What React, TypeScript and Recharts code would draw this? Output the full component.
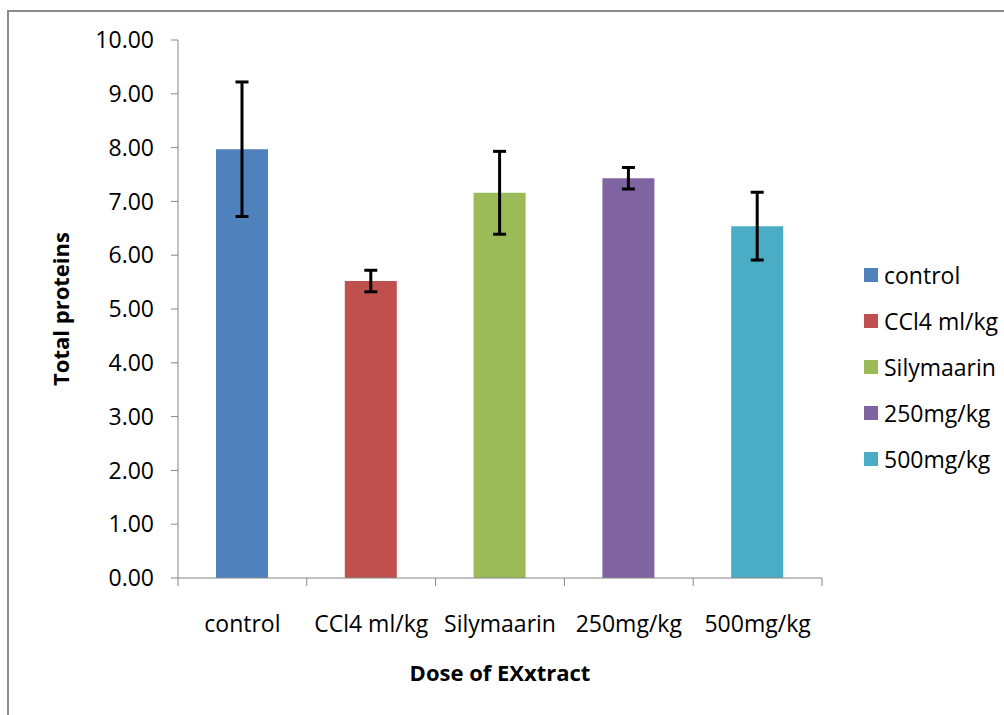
import { BarChart, Bar, Cell, ErrorBar, XAxis, YAxis, Label } from 'recharts'

const categories = ['control', 'CCl4 ml/kg', 'Silymaarin', '250mg/kg', '500mg/kg']
const values = [7.97, 5.52, 7.16, 7.43, 6.54]
const errors = [1.25, 0.2, 0.77, 0.2, 0.63]
const colors = ['#4F81BD', '#C0504D', '#9BBB59', '#8064A2', '#4BACC6']
const yTicks = [0, 1, 2, 3, 4, 5, 6, 7, 8, 9, 10]

const data = categories.map((name, i) => ({ name, value: values[i], err: errors[i] }))

const FONT = "'Open Sans', 'Noto Sans', sans-serif"
const AXIS = '#868686'
const TICK = { fontSize: 23, fill: '#000', fontFamily: FONT }

// category label + tick marks on the band edges (Excel style)
/* eslint-disable @typescript-eslint/no-explicit-any */
function CatTick(props: any) {
  const { x, y, payload, index, visibleTicksCount } = props
  const half = payload?.offset ?? 0
  const last = index === (visibleTicksCount ?? categories.length) - 1
  return (
    <g>
      <line x1={x - half} x2={x - half} y1={y} y2={y + 8} stroke={AXIS} />
      {last && <line x1={x + half} x2={x + half} y1={y} y2={y + 8} stroke={AXIS} />}
      <text x={x} y={y + 38} dy="0.71em" textAnchor="middle" {...TICK}>{payload.value}</text>
    </g>
  )
}
/* eslint-enable @typescript-eslint/no-explicit-any */

function LegendBox() {
  return (
    <div style={{ position: 'absolute', left: 864, top: 252, fontFamily: FONT, fontSize: 23, color: '#000' }}>
      {categories.map((c, i) => (
        <div key={c} style={{ display: 'flex', alignItems: 'center', height: 46 }}>
          <span style={{ width: 14, height: 14, background: colors[i], marginRight: 6, display: 'inline-block' }} />
          <span>{c}</span>
        </div>
      ))}
    </div>
  )
}

export default function App() {
  return (
    <div style={{ position: 'absolute', left: 0, top: 0, width: 1004, height: 715, background: '#fff', overflow: 'hidden' }}>
      <div style={{ position: 'absolute', left: 7, top: 10, width: 1100, height: 800, border: '2px solid #8c8c8c' }} />
      <div style={{ position: 'absolute', left: 0, top: 0 }}>
        <BarChart width={1004} height={715} data={data} margin={{ top: 40, right: 182, left: 0, bottom: 0 }}>
          <XAxis
            dataKey="name"
            height={137}
            stroke={AXIS}
            tickLine={false}
            tickSize={0}
            tickMargin={0}
            tick={<CatTick />}
            interval={0}
          >
            <Label value="Dose of EXxtract" position="center" dy={27} style={{ fontSize: 22, fontWeight: 700, fill: '#000', fontFamily: FONT }} />
          </XAxis>
          <YAxis
            width={178}
            domain={[0, 10]}
            ticks={yTicks}
            interval={0}
            tickFormatter={(v: number) => v.toFixed(2)}
            tick={TICK}
            tickSize={7}
            tickMargin={17}
            stroke={AXIS}
          >
            <Label value="Total proteins" angle={-90} position="center" dx={-28} style={{ fontSize: 22, fontWeight: 700, fill: '#000', fontFamily: FONT, textAnchor: 'middle' }} />
          </YAxis>
          <Bar dataKey="value" barSize={52} isAnimationActive={false}>
            {data.map((d, i) => <Cell key={d.name} fill={colors[i]} />)}
            <ErrorBar dataKey="err" width={6.5} strokeWidth={3} stroke="#000" direction="y" isAnimationActive={false} />
          </Bar>
        </BarChart>
      </div>
      <LegendBox />
    </div>
  )
}
